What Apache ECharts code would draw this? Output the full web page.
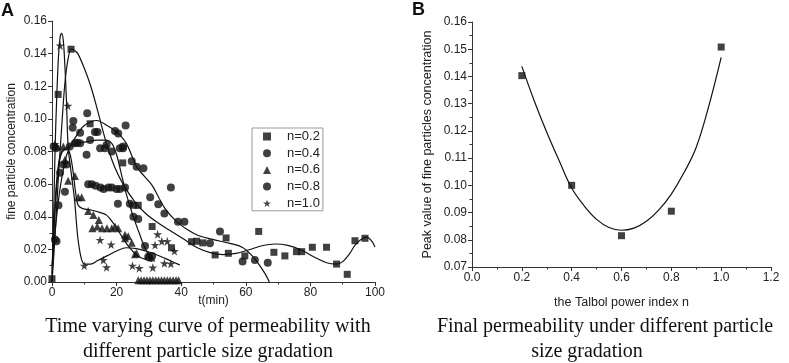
<!DOCTYPE html>
<html>
<head>
<meta charset="utf-8">
<script src="https://cdn.jsdelivr.net/npm/echarts@6/dist/echarts.min.js"></script>
<style>
  html, body { margin: 0; padding: 0; background: #fff; }
  #chart { width: 789px; height: 363px; }
</style>
</head>
<body>
<div id="chart"></div>
<script>
// ---- panel A: measured points [t(min), concentration] ----
var ptsN02 = [[0,0.002],[1.9,0.115],[5.9,0.1427],[11.8,0.097],[21.9,0.073],[25.2,0.047],[26.7,0.047],
  [31,0.034],[37,0.021],[43.2,0.0247],[44.8,0.025],[46.7,0.024],[50.5,0.0166],[53.9,0.027],[54.6,0.0176],
  [59.7,0.016],[64,0.031],[68.7,0.0182],[72.1,0.016],[75.7,0.0186],[77.3,0.0186],[80.6,0.0213],
  [85,0.0213],[88.1,0.011],[91.4,0.0047],[93.8,0.0253],[96.9,0.0268]];
var ptsN04 = [[0.9,0.026],[1.4,0.025],[2,0.047],[2.5,0.067],[3.5,0.072],[4.5,0.072],[6.6,0.0987],[6.4,0.0946],
  [8.7,0.0915],[7.8,0.0854],[10.9,0.1034],[11.8,0.087],[13.3,0.092],[14.1,0.092],[19.5,0.0925],[20.5,0.091],
  [22.8,0.096],[22,0.083],[24.7,0.074],[26.2,0.0707],[28.3,0.0697],[30.4,0.052],[32.9,0.0476],[34.8,0.042],
  [36.8,0.058],[39,0.037],[41,0.037],[48.9,0.0237],[52,0.031],[59,0.0125],[62.8,0.0135],[66.8,0.0118]];
var ptsN06 = [[1.5,0.083],[3.5,0.083],[4,0.075],[5,0.062],[7.1,0.065],[8.1,0.052],[9.2,0.052],[11.2,0.0435],
  [12.8,0.041],[14.5,0.038],[12.5,0.033],[14,0.034],[15.5,0.033],[17,0.033],[18.5,0.033],[19.5,0.034],
  [20.5,0.033],[22.6,0.029],[23.6,0.028],[24.7,0.024],[22.6,0.0268],[26.2,0.0176],[25.7,0.017],[29.8,0.0166],
  [30.8,0.015],[26.7,0.001],[27.6,0.001],[28.5,0.001],[29.4,0.001],[30.3,0.001],[31.2,0.001],[32.1,0.001],
  [33,0.001],[33.9,0.001],[34.8,0.001],[35.7,0.001],[36.6,0.001],[37.5,0.001],[38.4,0.001],[39.2,0.001]];
var ptsN08 = [[0.5,0.083],[1.2,0.082],[5.5,0.083],[7.1,0.085],[8.7,0.085],[10.7,0.078],[14.9,0.082],[16.4,0.082],
  [16.9,0.084],[18.5,0.08],[21,0.082],[22,0.082],[11.2,0.06],[12.3,0.06],[13.5,0.059],[15,0.058],[16,0.057],
  [17.5,0.058],[18.5,0.058],[20,0.057],[21,0.057],[22.6,0.058],[20.4,0.048],[24.1,0.048],[25.2,0.04],
  [26.7,0.0386],[28.8,0.022],[29.8,0.0155],[31,0.016],[4,0.0554]];
var ptsN10 = [[0.9,0.0846],[2.5,0.145],[4.9,0.108],[10,0.010],[14.9,0.0258],[15.9,0.0135],[16.9,0.009],
  [18.3,0.023],[24.9,0.010],[27,0.0085],[31.2,0.0088],[31.9,0.0227],[32.7,0.0292],[34,0.025],[35.7,0.025],
  [34.8,0.0115],[36.8,0.0112],[37.9,0.019]];

// ---- panel A: fitted curves ----
var fitN02 = [[0,0],[1,0.03],[2,0.065],[3,0.095],[4,0.122],[5,0.137],[6,0.143],[7,0.142],[8,0.14],[10,0.131],
  [12,0.12],[14,0.106],[16,0.091],[17.5,0.081],[19.5,0.07],[22,0.06],[25.7,0.049],[29,0.042],[33,0.036],
  [37,0.031],[41,0.026],[45,0.021],[49,0.018],[53,0.0168],[57,0.0175],[61,0.0198],[65,0.0222],[69,0.0233],
  [73,0.0225],[77,0.0198],[81,0.0155],[85,0.0118],[88,0.011],[90,0.0125],[92,0.017],[94,0.023],[96,0.0265],
  [97.5,0.0275],[99,0.025],[100,0.0215]];
var fitN04 = [[0,0.01],[2,0.05],[4,0.074],[5.6,0.083],[8,0.091],[10,0.096],[13.8,0.099],[17,0.096],[20,0.092],
  [23,0.085],[26.2,0.0707],[28.5,0.065],[30.9,0.0595],[33,0.052],[35,0.045],[38.6,0.037],[42,0.032],
  [45.3,0.0285],[50,0.026],[55,0.0237],[59,0.0212],[62,0.016],[64,0.011],[66,0.005],[67.3,0]];
var fitN06 = [[0,0],[1,0.045],[2,0.07],[3,0.079],[4.5,0.0815],[5.5,0.079],[6.5,0.068],[7.3,0.055],[8.1,0.047],
  [9.5,0.045],[12.3,0.044],[15,0.0425],[16.9,0.041],[19,0.036],[21.6,0.028],[24,0.021],[26.5,0.016],
  [29,0.0138],[31,0.0128]];
var fitN08 = [[0,0],[1,0.05],[2,0.072],[3,0.08],[5,0.083],[8,0.085],[11,0.086],[14,0.087],[16.5,0.087],
  [18.5,0.085],[20,0.078],[21.5,0.066],[23,0.054],[25,0.041],[27,0.03],[29,0.02],[31,0.014]];
var fitN10 = [[0,0.005],[0.5,0.04],[1,0.085],[1.5,0.115],[2,0.138],[2.5,0.15],[3,0.1525],[3.5,0.148],[4,0.132],
  [4.5,0.11],[5,0.083],[6,0.066],[7,0.05],[7.5,0.038],[8,0.027],[9,0.015],[10,0.011],[12,0.011],[14,0.013],
  [17,0.016],[20,0.019],[23,0.021],[26,0.0205],[29,0.019],[32,0.017],[35,0.0145],[38,0.0118],[39.6,0.0104]];

var legendNames = ["n=0.2", "n=0.4", "n=0.6", "n=0.8", "n=1.0"];

// ---- panel B ----
var talbolN = [0.2, 0.4, 0.6, 0.8, 1.0];
var peakConc = [0.1403, 0.1000, 0.0815, 0.0905, 0.1508];
var fitBn = [0.2, 0.25, 0.3, 0.35, 0.4, 0.45, 0.5, 0.55, 0.6, 0.65, 0.7, 0.75, 0.8, 0.85, 0.9, 0.95, 1.0];
var fitBy = [0.1437, 0.1310, 0.1195, 0.1090, 0.0990, 0.0925, 0.0875, 0.0845, 0.0835, 0.0843, 0.0868, 0.0910,
  0.0968, 0.1045, 0.1140, 0.1290, 0.1470];

var starPath = "path://M50,0 L61,35 L98,35 L68,57 L79,91 L50,70 L21,91 L32,57 L2,35 L39,35 Z";
var ink = "#111";
var sansFont = "Liberation Sans";
var serifFont = "Liberation Serif";

function axisBase(extra) {
  var base = {
    type: "value",
    axisLine: { show: true, lineStyle: { color: "#333", width: 1 } },
    axisTick: { show: true, inside: false, length: 4, lineStyle: { color: "#333" } },
    minorTick: { show: true, splitNumber: 2, length: 2.5, lineStyle: { color: "#333" } },
    splitLine: { show: false },
    axisLabel: { color: "#222", fontFamily: sansFont, fontSize: 12, margin: 5 },
    nameTextStyle: { color: "#222", fontFamily: sansFont },
    nameLocation: "middle",
    nameMoveOverlap: false
  };
  for (var k in extra) base[k] = extra[k];
  return base;
}

function scatterSeries(name, data, symbol, size) {
  return {
    name: name, type: "scatter", xAxisIndex: 0, yAxisIndex: 0,
    data: data, symbol: symbol, symbolSize: size,
    itemStyle: { color: ink }, z: 3
  };
}

function fitSeries(data, xi) {
  return {
    type: "line", xAxisIndex: xi, yAxisIndex: xi, data: data,
    smooth: 0.35, showSymbol: false, symbol: "none",
    lineStyle: { color: ink, width: 1.2 }, z: 2, silent: true
  };
}

var chart = echarts.init(document.getElementById("chart"));

var option = {
  animation: false,
  backgroundColor: "#fff",
  grid: [
    { left: 52, right: 414, top: 21, bottom: 81 },
    { left: 472, right: 18, top: 22, bottom: 96 }
  ],
  xAxis: [
    axisBase({ gridIndex: 0, min: 0, max: 100, interval: 20, name: "t(min)", nameGap: 13,
      nameTextStyle: { color: "#222", fontFamily: sansFont, fontSize: 12 } }),
    axisBase({ gridIndex: 1, min: 0, max: 1.2, interval: 0.2, name: "the Talbol power index n", nameGap: 29,
      nameTextStyle: { color: "#222", fontFamily: sansFont, fontSize: 12.5 },
      axisLabel: { color: "#222", fontFamily: sansFont, fontSize: 12, margin: 5,
        formatter: function (v) { return v.toFixed(1); } } })
  ],
  yAxis: [
    axisBase({ gridIndex: 0, min: 0, max: 0.16, interval: 0.02, name: "fine particle concentration", nameGap: 34,
      nameTextStyle: { color: "#222", fontFamily: sansFont, fontSize: 12 },
      axisLabel: { color: "#222", fontFamily: sansFont, fontSize: 12, margin: 5,
        formatter: function (v) { return v.toFixed(2); } } }),
    axisBase({ gridIndex: 1, min: 0.07, max: 0.16, interval: 0.01,
      name: "Peak value of fine particles concentration", nameGap: 38,
      nameTextStyle: { color: "#222", fontFamily: sansFont, fontSize: 12.5 },
      axisLabel: { color: "#222", fontFamily: sansFont, fontSize: 12, margin: 5,
        formatter: function (v) { return v.toFixed(2); } } })
  ],
  legend: {
    data: legendNames,
    orient: "vertical",
    left: 252, top: 128,
    padding: [2, 3, 1, 11],
    itemWidth: 8, itemHeight: 8, itemGap: 3.7,
    borderColor: "#9a9a9a", borderWidth: 1,
    textStyle: { color: "#222", fontFamily: sansFont, fontSize: 13, lineHeight: 13, padding: [0, 0, 0, 11] }
  },
  graphic: [
    { type: "text", left: 1, top: 2, style: { text: "A", font: "bold 18px " + sansFont, fill: "#111" } },
    { type: "text", left: 412, top: 1, style: { text: "B", font: "bold 18px " + sansFont, fill: "#111" } },
    { type: "text", x: 208, y: 327, style: { text: "Time varying curve of permeability with",
      font: "20px " + serifFont, fill: "#111", textAlign: "center", textVerticalAlign: "middle" } },
    { type: "text", x: 208, y: 352, style: { text: "different particle size gradation",
      font: "20px " + serifFont, fill: "#111", textAlign: "center", textVerticalAlign: "middle" } },
    { type: "text", x: 605, y: 327, style: { text: "Final permeability under different particle",
      font: "20px " + serifFont, fill: "#111", textAlign: "center", textVerticalAlign: "middle" } },
    { type: "text", x: 587, y: 352, style: { text: "size gradation",
      font: "20px " + serifFont, fill: "#111", textAlign: "center", textVerticalAlign: "middle" } }
  ],
  series: [
    fitSeries(fitN02, 0), fitSeries(fitN04, 0), fitSeries(fitN06, 0), fitSeries(fitN08, 0), fitSeries(fitN10, 0),
    scatterSeries("n=0.2", ptsN02, "rect", 7),
    scatterSeries("n=0.4", ptsN04, "circle", 8),
    scatterSeries("n=0.6", ptsN06, "triangle", 8),
    scatterSeries("n=0.8", ptsN08, "circle", 8),
    scatterSeries("n=1.0", ptsN10, starPath, 9),
    {
      type: "line", xAxisIndex: 1, yAxisIndex: 1,
      data: fitBn.map(function (n, i) { return [n, fitBy[i]]; }),
      smooth: 0.4, showSymbol: false, symbol: "none",
      lineStyle: { color: ink, width: 1.2 }, silent: true
    },
    {
      type: "scatter", xAxisIndex: 1, yAxisIndex: 1,
      data: talbolN.map(function (n, i) { return [n, peakConc[i]]; }),
      symbol: "rect", symbolSize: 7, itemStyle: { color: ink }
    }
  ]
};

chart.setOption(option);
</script>
</body>
</html>
